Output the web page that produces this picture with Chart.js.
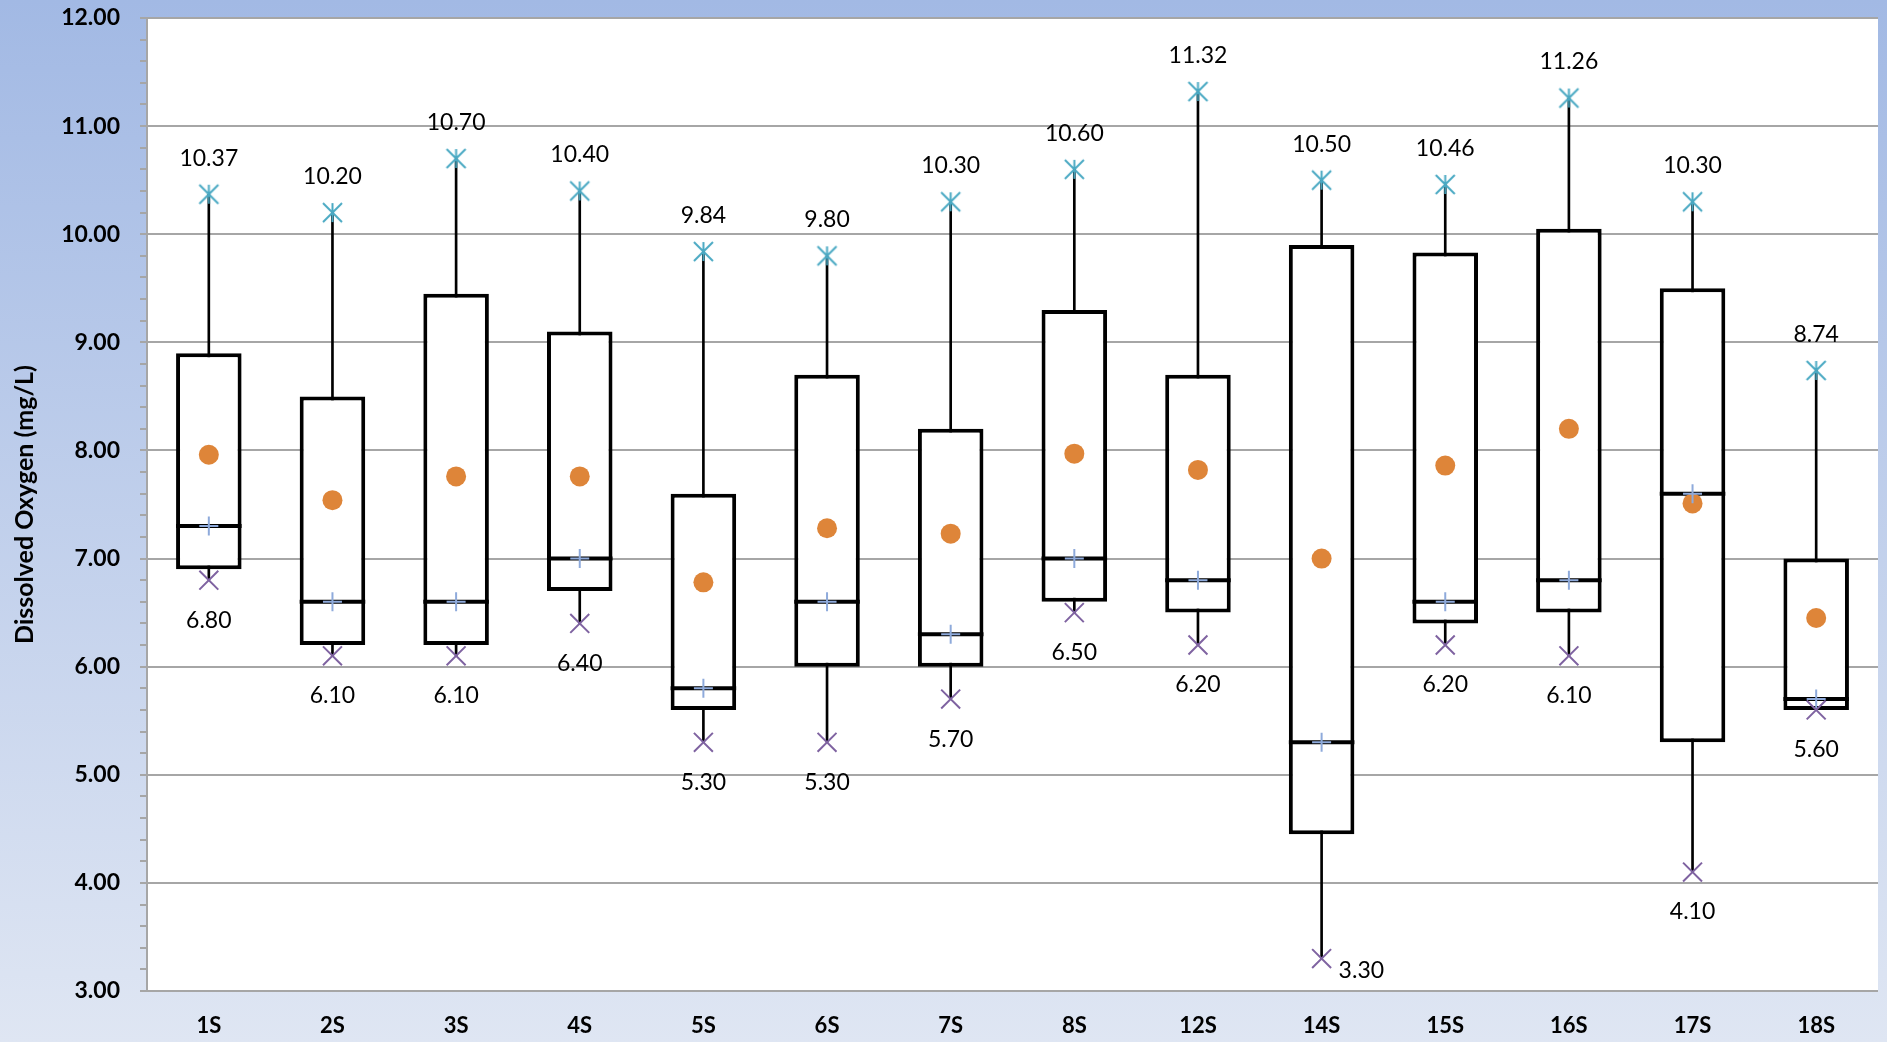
<!DOCTYPE html>
<html>
<head>
<meta charset="utf-8">
<script src="https://cdn.jsdelivr.net/npm/chart.js@4.4.1/dist/chart.umd.min.js"></script>
<style>
  html, body { margin: 0; padding: 0; }
  #wrap { width: 1887px; height: 1042px; position: relative; }
</style>
</head>
<body>
<div id="wrap"><canvas id="graficoOD"></canvas></div>
<script>
// estaciones y estadísticos (mg/L)
const estaciones = ['1S', '2S', '3S', '4S', '5S', '6S', '7S', '8S', '12S', '14S', '15S', '16S', '17S', '18S'];
const maximos  = [10.37, 10.20, 10.70, 10.40, 9.84, 9.80, 10.30, 10.60, 11.32, 10.50, 10.46, 11.26, 10.30, 8.74];
const minimos  = [6.80, 6.10, 6.10, 6.40, 5.30, 5.30, 5.70, 6.50, 6.20, 3.30, 6.20, 6.10, 4.10, 5.60];
const cuartil3 = [8.90, 8.50, 9.45, 9.10, 7.60, 8.70, 8.20, 9.30, 8.70, 9.90, 9.83, 10.05, 9.50, 7.00];
const cuartil1 = [6.90, 6.20, 6.20, 6.70, 5.60, 6.00, 6.00, 6.60, 6.50, 4.45, 6.40, 6.50, 5.30, 5.60];
const medianas = [7.30, 6.60, 6.60, 7.00, 5.80, 6.60, 6.30, 7.00, 6.80, 5.30, 6.60, 6.80, 7.60, 5.70];
const medias   = [7.96, 7.54, 7.76, 7.76, 6.78, 7.28, 7.23, 7.97, 7.82, 7.00, 7.86, 8.20, 7.51, 6.45];

// eje Y: 3 a 12, marcas menores cada 0.2
const yMin = 3, yMax = 12, yPaso = 0.2;
const yMarcas = [];
for (let i = 0; i <= Math.round((yMax - yMin) / yPaso); i++) {
    yMarcas.push(+(yMin + i * yPaso).toFixed(1));
}
const esEntero = v => Math.abs(v - Math.round(v)) < 1e-6;

const ANCHO_CAJA = 0.53;

// asterisco: X con trazo vertical
function asterisco(color, r) {
    const c = document.createElement('canvas');
    const s = Math.ceil(2 * r + 4);
    c.width = c.height = s;
    const g = c.getContext('2d');
    const m = s / 2;
    g.strokeStyle = color;
    g.lineWidth = 2;
    g.beginPath();
    g.moveTo(m - r, m - r); g.lineTo(m + r, m + r);
    g.moveTo(m + r, m - r); g.lineTo(m - r, m + r);
    g.moveTo(m, m - r); g.lineTo(m, m + r);
    g.stroke();
    return c;
}

const fondo = {
    id: 'fondo',
    beforeDraw(chart) {
        const { ctx, width, height, chartArea: a } = chart;
        const grad = ctx.createLinearGradient(0, 0, 0, height);
        grad.addColorStop(0, '#a2b9e4');
        grad.addColorStop(1, '#dfe6f3');
        ctx.save();
        ctx.fillStyle = grad;
        ctx.fillRect(0, 0, width, height);
        ctx.fillStyle = '#ffffff';
        ctx.fillRect(a.left, a.top, a.right - a.left, a.bottom - a.top);
        ctx.restore();
    }
};

const etiquetas = {
    id: 'etiquetas',
    afterDatasetsDraw(chart) {
        const { ctx, chartArea: a } = chart;
        const metaMax = chart.getDatasetMeta(6);
        const metaMin = chart.getDatasetMeta(5);
        ctx.save();
        ctx.font = '23px Lato';
        ctx.fillStyle = '#000';
        ctx.textBaseline = 'middle';
        metaMax.data.forEach((p, i) => {
            ctx.textAlign = 'center';
            ctx.fillText(maximos[i].toFixed(2), p.x, p.y - 36);
        });
        metaMin.data.forEach((p, i) => {
            if (p.y + 52 > a.bottom) {
                ctx.textAlign = 'left';
                ctx.fillText(minimos[i].toFixed(2), p.x + 17, p.y + 12);
            } else {
                ctx.textAlign = 'center';
                ctx.fillText(minimos[i].toFixed(2), p.x, p.y + 40);
            }
        });
        ctx.restore();
    }
};

const radioMediana = ctx => {
    const a = ctx.chart.chartArea;
    if (!a) return 32;
    return (a.right - a.left) / estaciones.length * ANCHO_CAJA / 2;
};

const ctxOD = document.getElementById('graficoOD').getContext('2d');

new Chart(ctxOD, {
    type: 'bar',
    data: {
        labels: estaciones,
        datasets: [
            {   // bigotes
                data: estaciones.map((_, i) => [minimos[i], maximos[i]]),
                backgroundColor: '#000',
                borderWidth: 0,
                barThickness: 2,
                grouped: false,
                order: 9
            },
            {   // cajas
                data: estaciones.map((_, i) => [cuartil1[i], cuartil3[i]]),
                backgroundColor: '#fff',
                borderColor: '#000',
                borderWidth: 4,
                borderSkipped: false,
                barPercentage: ANCHO_CAJA,
                categoryPercentage: 1,
                grouped: false,
                order: 8
            },
            {   // línea de la mediana
                type: 'line',
                data: medianas,
                showLine: false,
                pointStyle: 'line',
                pointRadius: radioMediana,
                pointBorderColor: '#000',
                pointBorderWidth: 4,
                order: 7
            },
            {   // media
                type: 'line',
                data: medias,
                showLine: false,
                pointStyle: 'circle',
                pointRadius: 10,
                pointBackgroundColor: '#de8539',
                pointBorderWidth: 0,
                order: 6
            },
            {   // marcador de la mediana
                type: 'line',
                data: medianas,
                showLine: false,
                pointStyle: 'cross',
                pointRadius: 9.5,
                pointBorderColor: '#8eaadb',
                pointBorderWidth: 2,
                order: 5
            },
            {   // mínimo
                type: 'line',
                data: minimos,
                showLine: false,
                pointStyle: 'crossRot',
                pointRadius: 13.4,
                pointBorderColor: '#7f63a1',
                pointBorderWidth: 2,
                order: 4
            },
            {   // máximo
                type: 'line',
                data: maximos,
                showLine: false,
                pointStyle: asterisco('#4aa9c3', 9.5),
                pointRadius: 10,
                order: 3
            }
        ]
    },
    options: {
        responsive: true,
        maintainAspectRatio: false,
        animation: false,
        events: [],
        layout: { autoPadding: false, padding: { top: 18, right: 9 } },
        plugins: {
            legend: { display: false },
            tooltip: { enabled: false }
        },
        scales: {
            x: {
                offset: true,
                grid: { display: false },
                border: { display: false },
                ticks: {
                    color: '#000',
                    font: { family: 'Lato', size: 22, weight: 'bold' },
                    padding: 14
                },
                afterFit: s => { s.height = 51; s.paddingLeft = 0; s.paddingRight = 0; }
            },
            y: {
                min: yMin,
                max: yMax,
                afterBuildTicks: s => { s.ticks = yMarcas.map(v => ({ value: v })); },
                grid: {
                    color: c => (c.tick && esEntero(c.tick.value)) ? '#a6a6a6' : 'rgba(0,0,0,0)',
                    tickColor: '#a6a6a6',
                    lineWidth: 2,
                    tickLength: 7
                },
                border: { display: true, color: '#a6a6a6', width: 2 },
                ticks: {
                    autoSkip: false,
                    color: '#000',
                    padding: 20,
                    font: { family: 'Lato', size: 23, weight: 'bold' },
                    callback: v => esEntero(v) ? v.toFixed(2) : ''
                },
                title: {
                    display: true,
                    text: 'Dissolved Oxygen (mg/L)',
                    color: '#000',
                    font: { family: 'Lato', size: 25, weight: 'bold' },
                    padding: { top: 10, bottom: 0 }
                },
                afterFit: s => { s.width = 147; s.paddingTop = 0; s.paddingBottom = 0; }
            }
        }
    },
    plugins: [fondo, etiquetas]
});
</script>
</body>
</html>
